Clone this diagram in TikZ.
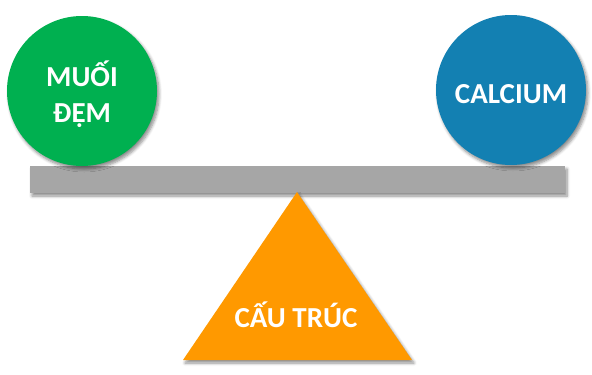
\documentclass[tikz,border=0pt]{standalone}
\usepackage{fontspec}
\setmainfont{Carlito}
\usetikzlibrary{shadows.blur}
\definecolor{ballgreen}{HTML}{00B050}
\definecolor{ballblue}{HTML}{1380B2}
\definecolor{beamgray}{HTML}{A6A6A6}
\definecolor{pivotorange}{HTML}{FF9900}
\tikzset{
  soft/.style={blur shadow={shadow xshift=2pt, shadow yshift=-3pt, shadow blur steps=6, shadow blur radius=3pt, shadow opacity=45}},
  ball/.style={circle, minimum size=150pt, inner sep=0pt, soft},
  label/.style={text=white, font=\bfseries\fontsize{29}{36}\selectfont, align=center},
}
\begin{document}
\begin{tikzpicture}[x=1pt, y=-1pt]
  \useasboundingbox (0,0) rectangle (592,375);
  % beam
  \node[fill=beamgray, minimum width=535pt, minimum height=27pt, inner sep=0pt, soft] (beam) at (297.5,179.5) {};
  % fulcrum
  \coordinate (apex) at (297,192);
  \coordinate (bl) at (183,360);
  \coordinate (br) at (412,360);
  \fill[pivotorange, soft] (apex) -- (br) -- (bl) -- cycle;
  \node[label, anchor=base] (struct) at (296,327) {CẤU TRÚC};
  % weights
  \node[ball, fill=ballgreen] (buffer) at (82,91) {};
  \node[label, anchor=base] (buffertxt) at (82,122) {MUỐI\\ĐỆM};
  \node[ball, fill=ballblue] (calcium) at (511,90) {};
  \node[label, anchor=base] (calciumtxt) at (511,103) {CALCIUM};
\end{tikzpicture}
\end{document}
